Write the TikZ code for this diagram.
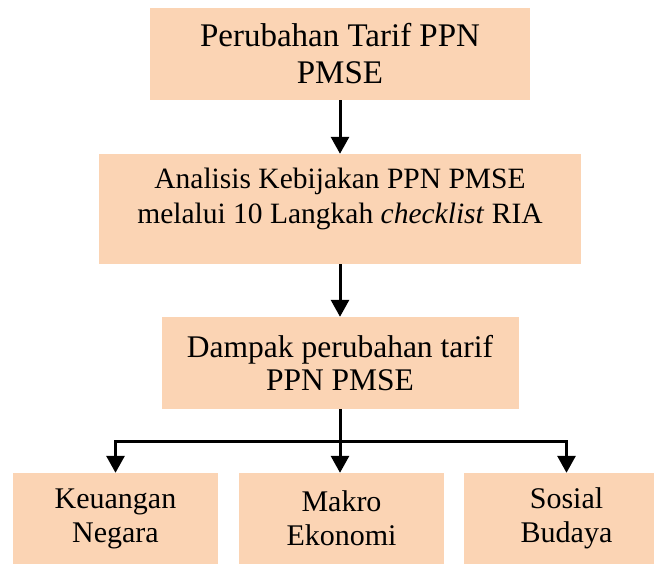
\documentclass[tikz,border=0pt]{standalone}
\usepackage{fontspec}
\setmainfont{Liberation Serif}
\usetikzlibrary{arrows.meta,positioning}
\definecolor{peach}{HTML}{FBD4B4}
\tikzset{
    blok/.style={fill=peach,minimum width=#1,inner sep=0pt,align=center,font=\fontsize{30}{34}\selectfont},
    panah/.style={-{Triangle[width=18pt,length=17pt]},line width=3pt}
}

\begin{document}
\begin{tikzpicture}[x=1pt,y=1pt]
    \useasboundingbox (0,0) rectangle (654,-564);
    \node[blok=380pt,minimum height=92pt,font=\fontsize{33}{37}\selectfont] (tarif) at (340,-54) {Perubahan Tarif PPN\\PMSE};
    \node[blok=482pt,minimum height=110pt,
        label={[align=center,yshift=10pt,font=\fontsize{29.5}{35}\selectfont]center:Analisis Kebijakan PPN PMSE\\melalui 10 Langkah \textit{checklist} RIA}] (analisis) at (340,-209) {};
    \node[blok=357pt,minimum height=92pt,font=\fontsize{31.5}{33}\selectfont] (dampak) at (340,-363) {Dampak perubahan tarif\\PPN PMSE};

    \node[blok=205pt,minimum height=91pt] (keuangan) at (115.5,-518.5) {Keuangan\\Negara};
    \node[blok=205pt,minimum height=91pt] (makro) at (341.5,-518.5) {Makro\\Ekonomi};
    \node[blok=205pt,minimum height=91pt] (sosial) at (566.5,-518.5) {Sosial\\Budaya};

    \draw[panah] (tarif) -- (analisis);
    \draw[panah] (analisis) -- (dampak);
    \draw[panah] (dampak.south) -- (dampak.south |- makro.north);
    \coordinate (cabang) at (340,-441);
    \draw[panah] (cabang) -| (keuangan.north);
    \draw[panah] (cabang) -| (sosial.north);
\end{tikzpicture}
\end{document}
